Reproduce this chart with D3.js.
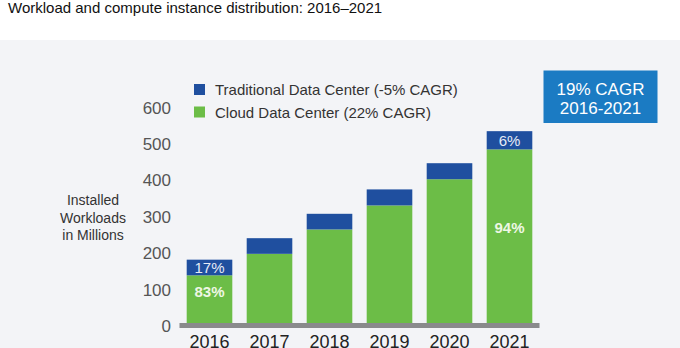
<!DOCTYPE html>
<html>
<head>
<meta charset="utf-8">
<script src="https://cdn.jsdelivr.net/npm/d3@7/dist/d3.min.js"></script>
<style>
	html, body { margin: 0; padding: 0; background: #fff; }
	svg { display: block; font-family: "Liberation Sans", Arial, Helvetica, sans-serif; }
</style>
</head>
<body>
<svg id="chart" width="680" height="348"></svg>
<script>
// installed workloads, millions
var years = ["2016", "2017", "2018", "2019", "2020", "2021"];
var cloudValues = [131, 190, 257, 323, 395, 477];
var traditionalValues = [43, 43, 43, 44, 44, 50];
var yTicks = [0, 100, 200, 300, 400, 500, 600];

// share labels printed inside the bars (only first and last year)
var traditionalShare = ["17%", "", "", "", "", "6%"];
var cloudShare = ["83%", "", "", "", "", "94%"];

var legendLabels = ["Traditional Data Center (-5% CAGR)", "Cloud Data Center (22% CAGR)"];

(function (window, document) {
	var svg = d3.select("#chart");
	var w = +svg.attr("width");
	var h = +svg.attr("height");

	var blue = "#1f4f9f",
		green = "#6cbd47",
		boxBlue = "#1b7bc3";

	// title above the panel
	svg.append("text")
		.attr("x", 8)
		.attr("y", 13)
		.style("font-size", "15px")
		.style("fill", "#111")
		.text("Workload and compute instance distribution: 2016\u20132021");

	// grey panel behind the chart
	svg.append("rect")
		.attr("x", 0)
		.attr("y", 40)
		.attr("width", w)
		.attr("height", h - 40)
		.style("fill", "#f3f4f7");

	var x = d3.scaleBand()
		.domain(years)
		.range([179.5, 539.5])
		.paddingInner(0.24)
		.paddingOuter(0.12);

	var y = d3.scaleLinear()
		.domain([0, 600])
		.range([323, 104.6]);

	// y tick labels, no tick lines
	var yAxis = svg.append("g")
		.attr("transform", "translate(171,0)")
		.call(d3.axisLeft(y).tickValues(yTicks).tickSize(0).tickPadding(0));
	yAxis.select(".domain").remove();
	yAxis.selectAll("text")
		.attr("dy", "8.5px")
		.style("font-size", "17px")
		.style("font-family", "\"Liberation Sans\", Arial, sans-serif")
		.style("fill", "#555");

	// y axis title, three centred lines
	svg.append("text")
		.attr("text-anchor", "middle")
		.style("font-size", "14px")
		.style("fill", "#333")
		.selectAll("tspan")
		.data(["Installed", "Workloads", "in Millions"])
		.join("tspan")
		.attr("x", 93)
		.attr("y", function (d, i) { return 205 + i * 17.5; })
		.text(function (d) { return d; });

	var stacked = years.map(function (yr, i) {
		return { year: yr, cloud: cloudValues[i], trad: traditionalValues[i], i: i };
	});

	var bars = svg.append("g").selectAll("g")
		.data(stacked)
		.join("g");

	bars.append("rect")
		.attr("x", function (d) { return x(d.year); })
		.attr("width", x.bandwidth())
		.attr("y", function (d) { return y(d.cloud); })
		.attr("height", function (d) { return y(0) - y(d.cloud); })
		.style("fill", green);

	bars.append("rect")
		.attr("x", function (d) { return x(d.year); })
		.attr("width", x.bandwidth())
		.attr("y", function (d) { return y(d.cloud + d.trad); })
		.attr("height", function (d) { return y(d.cloud) - y(d.cloud + d.trad); })
		.style("fill", blue);

	// share labels
	bars.filter(function (d) { return traditionalShare[d.i]; })
		.append("text")
		.attr("x", function (d) { return x(d.year) + x.bandwidth() / 2; })
		.attr("y", function (d) { return (y(d.cloud + d.trad) + y(d.cloud)) / 2 + 5.5; })
		.attr("text-anchor", "middle")
		.style("font-size", "15px")
		.style("fill", "#e6ebf6")
		.text(function (d) { return traditionalShare[d.i]; });

	bars.filter(function (d) { return cloudShare[d.i]; })
		.append("text")
		.attr("x", function (d) { return x(d.year) + x.bandwidth() / 2; })
		.attr("y", function (d) { return d.i === 0 ? y(d.cloud) + 22 : y(d.cloud) + 84; })
		.attr("text-anchor", "middle")
		.style("font-size", "15px")
		.style("font-weight", "bold")
		.style("fill", "#eef7e4")
		.text(function (d) { return cloudShare[d.i]; });

	// thick grey baseline
	svg.append("rect")
		.attr("x", x.range()[0])
		.attr("y", y(0))
		.attr("width", x.range()[1] - x.range()[0])
		.attr("height", 5)
		.style("fill", "#8a8a8c");

	// year labels
	var xAxis = svg.append("g")
		.attr("transform", "translate(0,334)")
		.call(d3.axisBottom(x).tickSize(0).tickPadding(0));
	xAxis.select(".domain").remove();
	xAxis.selectAll("text")
		.attr("dy", "13.5px")
		.style("font-size", "18px")
		.style("font-family", "\"Liberation Sans\", Arial, sans-serif")
		.style("fill", "#222");

	// legend
	var legend = svg.append("g").selectAll("g")
		.data(legendLabels)
		.join("g")
		.attr("transform", function (d, i) { return "translate(194," + (84 + i * 22.5) + ")"; });

	legend.append("rect")
		.attr("width", 11)
		.attr("height", 11)
		.style("fill", function (d, i) { return i === 0 ? blue : green; });

	legend.append("text")
		.attr("x", 21)
		.attr("y", 11)
		.style("font-size", "15px")
		.style("fill", "#333")
		.text(function (d) { return d; });

	// overall growth callout
	svg.append("rect")
		.attr("x", 543.5)
		.attr("y", 70.5)
		.attr("width", 114)
		.attr("height", 52.5)
		.style("fill", boxBlue);

	svg.append("text")
		.attr("text-anchor", "middle")
		.style("font-size", "17px")
		.style("fill", "#fff")
		.selectAll("tspan")
		.data(["19% CAGR", "2016-2021"])
		.join("tspan")
		.attr("x", 600.5)
		.attr("y", function (d, i) { return 94.5 + i * 19.5; })
		.text(function (d) { return d; });

})(window, document);
</script>
</body>
</html>
